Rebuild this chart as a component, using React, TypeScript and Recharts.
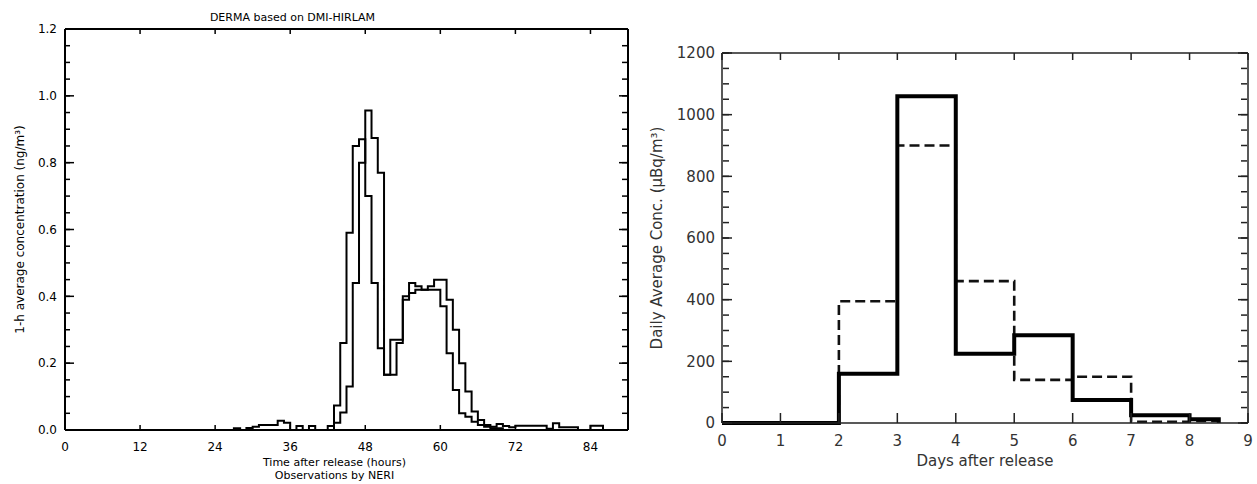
import { Label, Line, LineChart, XAxis, YAxis } from 'recharts';

// left panel: 1-h averages (ng/m3), each value holds from its hour to the next
const hours = [
  26, 27, 28, 29, 30, 31, 32, 33, 34, 35, 36, 37, 38, 39, 40, 41, 42, 43, 44, 45,
  46, 47, 48, 49, 50, 51, 52, 53, 54, 55, 56, 57, 58, 59, 60, 61, 62, 63, 64, 65,
  66, 67, 68, 69, 70, 71, 72, 73, 74, 75, 76, 77, 78, 79, 80, 81, 82, 83, 84, 85,
  86, 87, 88,
];
const obsHourly = [
  0, 0, 0, 0, 0, 0, 0, 0, 0, 0, 0, 0, 0, 0, 0, 0, 0.012, 0.073, 0.26, 0.59,
  0.85, 0.87, 0.7, 0.44, 0.245, 0.165, 0.27, 0.27, 0.4, 0.41, 0.42, 0.42, 0.42, 0.42, 0.37, 0.23, 0.12, 0.05, 0.04, 0.025,
  0.015, 0.01, 0.005, 0.005, 0, 0, 0, 0, 0, 0, 0, 0, 0, 0, 0, 0, 0, 0, 0, 0,
  0, 0, 0,
];
const modelHourly = [
  0, 0.005, 0, 0.006, 0.01, 0.015, 0.015, 0.015, 0.028, 0.022, 0, 0.012, 0, 0.012, 0, 0, 0, 0.022, 0.052, 0.13,
  0.44, 0.8, 0.956, 0.874, 0.77, 0.165, 0.165, 0.26, 0.39, 0.44, 0.43, 0.42, 0.43, 0.45, 0.45, 0.39, 0.3, 0.2, 0.115, 0.055,
  0.03, 0.015, 0.01, 0.018, 0.012, 0.008, 0.013, 0.013, 0.013, 0.013, 0.013, 0.004, 0.02, 0.008, 0.008, 0.008, 0, 0, 0.013, 0.013,
  0, 0, 0,
];
const hourTicks = [0, 12, 24, 36, 48, 60, 72, 84];
const concTicks = [0, 0.2, 0.4, 0.6, 0.8, 1.0, 1.2];
const concMinorTicks = [
  0, 0.05, 0.1, 0.15, 0.2, 0.25, 0.3, 0.35, 0.4, 0.45, 0.5, 0.55, 0.6, 0.65, 0.7, 0.75,
  0.8, 0.85, 0.9, 0.95, 1.0, 1.05, 1.1, 1.15, 1.2,
];

// right panel: daily averages (uBq/m3), each value holds from its day to the next
const days = [0, 2, 3, 4, 5, 6, 7, 8, 8.5];
const measuredDaily = [0, 160, 1060, 225, 285, 75, 25, 12, 0];
const modelDaily = [0, 395, 900, 460, 140, 150, 4, 7, 0];
const dayTicks = [0, 1, 2, 3, 4, 5, 6, 7, 8, 9];
const dailyTicks = [0, 200, 400, 600, 800, 1000, 1200];
const dailyMinorTicks = [
  0, 50, 100, 150, 200, 250, 300, 350, 400, 450, 500, 550, 600, 650, 700, 750,
  800, 850, 900, 950, 1000, 1050, 1100, 1150, 1200,
];

const hourlyRows = hours.map((hour, i) => ({ hour, obs: obsHourly[i], model: modelHourly[i] }));
const dailyRows = days.map((day, i) => ({ day, measured: measuredDaily[i], model: modelDaily[i] }));

const FONT = '"DejaVu Sans", sans-serif';
const NoLabel = () => <g />;

// x tick: label below the axis plus inward marks at the bottom and top of the frame
type XTickOpts = { margin: number; top: number; bottomLen: number; topLen: number; stroke: string; style: any };
function makeXTick({ margin, top, bottomLen, topLen, stroke, style }: XTickOpts) {
  return function XTick(props: any) {
    const { x, y, payload } = props;
    const axisY = y - margin;
    return (
      <g>
        <line x1={x} x2={x} y1={axisY} y2={axisY - bottomLen} stroke={stroke} strokeWidth={1.5} />
        <line x1={x} x2={x} y1={top} y2={top + topLen} stroke={stroke} strokeWidth={1.5} />
        <text x={x} y={y} dy="0.71em" textAnchor="middle" style={style}>
          {payload.value}
        </text>
      </g>
    );
  };
}

function HourlyPanel() {
  const frame = { stroke: '#000', strokeWidth: 2 };
  const tickLine = { stroke: '#000', strokeWidth: 1.5 };
  const text = { fill: '#000', fontSize: 12, fontFamily: FONT };
  const label = { fill: '#000', fontSize: 11, fontFamily: FONT };
  // mirrored y axes only carry the inward tick marks, 1px wide so they barely take room
  const inner = { type: 'number' as const, allowDataOverflow: true, interval: 0, mirror: true, tickLine, tick: NoLabel };
  const HourTick = makeXTick({ margin: 12, top: 29, bottomLen: 5, topLen: 5, stroke: '#000', style: text });
  return (
    <LineChart width={640} height={484} data={hourlyRows} margin={{ top: 29, right: 12, bottom: 24, left: 0 }}>
      <XAxis
        dataKey="hour"
        type="number"
        domain={[0, 90]}
        ticks={hourTicks}
        interval={0}
        height={30}
        tickLine={false}
        tickSize={0}
        tickMargin={12}
        axisLine={frame}
        tick={HourTick}
      >
        <Label value="Time after release (hours)" position="bottom" offset={-2} dx={-12} style={label} />
        <Label value="Observations by NERI" position="bottom" offset={11} dx={-12} style={label} />
      </XAxis>
      {/* top edge of the frame and the title; its tick marks come from HourTick */}
      <XAxis xAxisId="top" orientation="top" mirror height={1} tickLine={false} tick={NoLabel} axisLine={frame}>
        <Label value="DERMA based on DMI-HIRLAM" position="top" offset={8} dx={-54} style={label} />
      </XAxis>
      <YAxis
        type="number"
        domain={[0, 1.2]}
        ticks={concTicks}
        interval={0}
        width={65}
        tickLine={false}
        tickSize={0}
        tickMargin={8}
        axisLine={frame}
        tick={text}
        tickFormatter={(v: number) => v.toFixed(1)}
      >
        <Label value="1-h average concentration (ng/m³)" angle={-90} position="center" dx={-13} style={{ ...label, fontSize: 12 }} />
      </YAxis>
      <YAxis yAxisId="leftMajor" {...inner} domain={[0, 1.2]} ticks={concTicks} width={1} tickSize={9} axisLine={false} />
      <YAxis yAxisId="leftMinor" {...inner} domain={[0, 1.2]} ticks={concMinorTicks} width={1} tickSize={4} axisLine={false} />
      <YAxis yAxisId="rightMajor" orientation="right" {...inner} domain={[0, 1.2]} ticks={concTicks} width={1} tickSize={9} axisLine={frame} />
      <YAxis yAxisId="rightMinor" orientation="right" {...inner} domain={[0, 1.2]} ticks={concMinorTicks} width={1} tickSize={5} axisLine={false} />
      <Line type="stepAfter" dataKey="obs" stroke="#000" strokeWidth={2} dot={false} isAnimationActive={false} />
      <Line type="stepAfter" dataKey="model" stroke="#000" strokeWidth={2} dot={false} isAnimationActive={false} />
    </LineChart>
  );
}

function DailyPanel() {
  const frame = { stroke: '#222', strokeWidth: 1.5 };
  const tickLine = { stroke: '#222', strokeWidth: 1.5 };
  const text = { fill: '#333', fontSize: 15, fontFamily: FONT };
  const inner = { type: 'number' as const, allowDataOverflow: true, interval: 0, mirror: true, tickLine, tick: NoLabel };
  const DayTick = makeXTick({ margin: 12, top: 53, bottomLen: 10, topLen: 7, stroke: '#222', style: text });
  return (
    <LineChart width={617} height={484} data={dailyRows} margin={{ top: 53, right: 9, bottom: 21, left: 10 }}>
      <XAxis
        dataKey="day"
        type="number"
        domain={[0, 9]}
        ticks={dayTicks}
        interval={0}
        height={40}
        tickLine={false}
        tickSize={0}
        tickMargin={12}
        axisLine={frame}
        tick={DayTick}
      >
        <Label value="Days after release" position="bottom" offset={-8} style={text} />
      </XAxis>
      <XAxis xAxisId="top" orientation="top" mirror height={1} tickLine={false} tick={NoLabel} axisLine={frame} />
      <YAxis
        type="number"
        domain={[0, 1200]}
        ticks={dailyTicks}
        interval={0}
        width={72}
        tickLine={false}
        tickSize={0}
        tickMargin={7}
        axisLine={frame}
        tick={text}
      >
        <Label value="Daily Average Conc. (μBq/m³)" angle={-90} position="center" dx={-29} style={text} />
      </YAxis>
      <YAxis yAxisId="leftMajor" {...inner} domain={[0, 1200]} ticks={dailyTicks} width={1} tickSize={10} axisLine={false} />
      <YAxis yAxisId="leftMinor" {...inner} domain={[0, 1200]} ticks={dailyMinorTicks} width={1} tickSize={6} axisLine={false} />
      <YAxis yAxisId="rightMajor" orientation="right" {...inner} domain={[0, 1200]} ticks={dailyTicks} width={1} tickSize={10} axisLine={frame} />
      <YAxis yAxisId="rightMinor" orientation="right" {...inner} domain={[0, 1200]} ticks={dailyMinorTicks} width={1} tickSize={6} axisLine={false} />
      <Line type="stepAfter" dataKey="model" stroke="#111" strokeWidth={2.6} strokeDasharray="10 5" dot={false} isAnimationActive={false} />
      <Line type="stepAfter" dataKey="measured" stroke="#000" strokeWidth={4} dot={false} isAnimationActive={false} />
    </LineChart>
  );
}

export default function App() {
  return (
    <div style={{ position: 'absolute', left: 0, top: 0, width: 1257, height: 484, background: '#fff' }}>
      <div style={{ position: 'absolute', left: 0, top: 0 }}>
        <HourlyPanel />
      </div>
      <div style={{ position: 'absolute', left: 640, top: 0 }}>
        <DailyPanel />
      </div>
    </div>
  );
}
